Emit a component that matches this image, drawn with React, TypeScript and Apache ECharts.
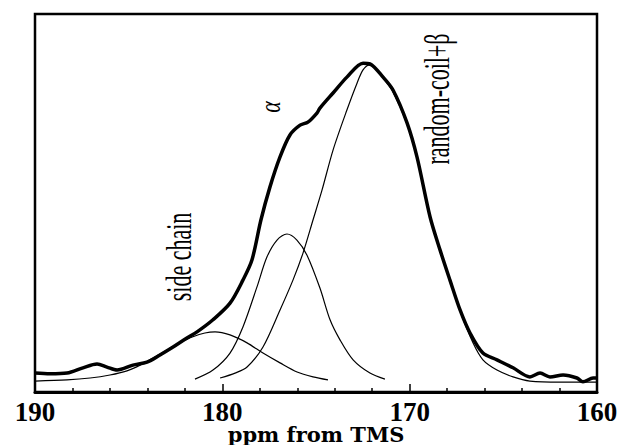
import React, { useEffect, useRef } from "react";
import * as echarts from "echarts";

// Experimental spectrum (thick line): chemical shift (ppm) and intensity
const expPpm = [190.0, 189.2, 188.29, 187.44, 186.69, 186.16, 185.62, 184.77, 184.02, 183.33, 182.63, 181.89, 181.35, 180.5, 179.59, 178.9, 178.42, 177.94, 177.46, 176.92, 176.39, 175.85, 175.43, 174.95, 174.79, 174.09, 173.35, 172.49, 172.12, 171.42, 170.89, 170.14, 169.61, 168.91, 168.38, 167.85, 167.31, 166.78, 166.09, 165.34, 164.48, 163.58, 163.04, 162.51, 161.81, 161.07, 160.75, 160.21, 160.0];
const expInt = [5.0, 4.8, 5.0, 6.4, 7.4, 6.6, 5.8, 7.1, 7.9, 9.8, 11.9, 14.3, 15.9, 19.1, 23.5, 29.6, 34.9, 45.5, 54.2, 62.2, 68.0, 70.6, 71.4, 73.8, 75.1, 79.1, 83.3, 87.0, 86.8, 83.3, 79.9, 71.2, 62.2, 46.3, 37.6, 29.6, 21.7, 15.6, 10.3, 8.5, 6.4, 4.0, 5.0, 4.0, 4.5, 3.7, 2.7, 3.7, 3.7];

// random-coil + beta component
const rcPpm = [180.12, 179.32, 178.68, 177.83, 176.92, 176.23, 175.69, 175.16, 174.68, 174.09, 173.35, 172.81, 172.49, 172.17, 171.85, 171.42, 170.89, 170.14, 169.61, 168.91, 168.38, 167.85, 167.31, 166.62, 166.09, 165.34, 164.48, 163.58, 161.97, 160.0];
const rcInt = [3.7, 5.0, 6.6, 11.9, 21.7, 29.6, 36.8, 45.5, 53.4, 64.0, 74.6, 81.7, 85.2, 86.5, 85.7, 83.1, 79.4, 70.9, 61.9, 46.0, 37.3, 29.4, 21.4, 13.0, 8.5, 5.8, 4.0, 2.9, 2.6, 2.6];

// alpha-helix component
const alphaPpm = [181.46, 180.5, 179.59, 178.9, 178.15, 177.62, 177.08, 176.55, 176.02, 175.48, 174.79, 174.25, 173.72, 173.02, 172.12, 171.32];
const alphaInt = [3.4, 5.8, 10.3, 17.2, 27.8, 35.7, 40.2, 41.8, 40.2, 36.2, 27.5, 19.1, 13.8, 8.5, 5.0, 3.4];

// side-chain component
const scPpm = [190.0, 188.29, 187.06, 186.0, 185.09, 184.39, 183.7, 182.95, 182.26, 181.57, 180.93, 180.39, 179.59, 178.68, 177.83, 176.92, 176.01, 175.16, 174.36];
const scInt = [2.9, 3.2, 3.7, 4.5, 5.6, 7.1, 9.0, 11.1, 13.0, 14.6, 15.6, 15.9, 15.1, 13.0, 10.3, 7.7, 5.3, 4.0, 3.2];

const xTicks = { min: 160, max: 190, interval: 10 };
const xTitle = "ppm from TMS";
const labels = { alpha: "α", rc: "random-coil+β", sc: "side chain" };

const pairs = (xs: number[], ys: number[]) => xs.map((x, i) => [x, ys[i]]);

export default function App() {
  const ref = useRef<HTMLDivElement>(null);
  useEffect(() => {
    if (!ref.current) return;
    const chart = echarts.init(ref.current, undefined, { renderer: "svg" });
    const thin = { type: "line", showSymbol: false, smooth: 0.3, lineStyle: { color: "#000", width: 1.2 }, z: 2 };
    chart.setOption({
      animation: false,
      backgroundColor: "#fff",
      grid: { left: 35, right: 20, top: 14, bottom: 53, show: true, borderColor: "#000", borderWidth: 2.5, outerBoundsMode: "none", containLabel: false },
      xAxis: {
        type: "value",
        min: xTicks.min,
        max: xTicks.max,
        interval: xTicks.interval,
        inverse: true,
        axisLine: { show: true, onZero: false, lineStyle: { color: "#000", width: 3 } },
        axisTick: { show: true, inside: true, length: 8, lineStyle: { color: "#000", width: 1.5 } },
        minorTick: { show: true, splitNumber: 5, length: 4, lineStyle: { color: "#000", width: 1.5 } },
        splitLine: { show: false },
        axisLabel: { color: "#000", fontFamily: "Liberation Serif", fontWeight: "bold", fontSize: 27, lineHeight: 21, margin: 9 },
        name: xTitle,
        nameLocation: "middle",
        nameGap: 33,
        nameMoveOverlap: false,
        nameTextStyle: { color: "#000", fontFamily: "DejaVu Serif", fontWeight: "bold", fontSize: 21, lineHeight: 18 },
      },
      yAxis: { type: "value", min: 0, max: 100, show: false },
      series: [
        { ...thin, name: "side chain", data: pairs(scPpm, scInt) },
        { ...thin, name: "alpha", data: pairs(alphaPpm, alphaInt) },
        { ...thin, name: "random-coil+beta", data: pairs(rcPpm, rcInt) },
        { type: "line", name: "experimental", showSymbol: false, smooth: 0.3, lineStyle: { color: "#000", width: 3.5 }, z: 3, data: pairs(expPpm, expInt) },
      ],
      graphic: [
        { type: "text", x: 270, y: 107, rotation: Math.PI / 2, scaleY: 1.3, style: { text: labels.alpha, font: "italic 22px 'Liberation Serif'", fill: "#000", align: "center", verticalAlign: "middle" } },
        { type: "text", x: 437, y: 99, rotation: Math.PI / 2, scaleY: 1.6, style: { text: labels.rc, font: "22px 'Liberation Serif'", fill: "#000", align: "center", verticalAlign: "middle" } },
        { type: "text", x: 179, y: 257, rotation: Math.PI / 2, scaleY: 1.6, style: { text: labels.sc, font: "22px 'Liberation Serif'", fill: "#000", align: "center", verticalAlign: "middle" } },
      ],
    });
    return () => chart.dispose();
  }, []);
  return <div ref={ref} style={{ width: 617, height: 445, position: "absolute", left: 0, top: 0 }} />;
}
